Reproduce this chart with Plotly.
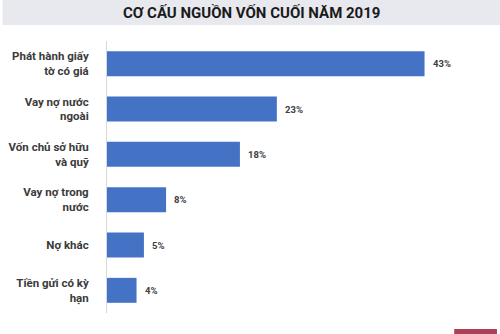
import plotly.graph_objects as go

categories = ["Phát hành giấy<br>tờ có giá", "Vay nợ nước<br>ngoài", "Vốn chủ sở hữu<br>và quỹ",
              "Vay nợ trong<br>nước", "Nợ khác", "Tiền gửi có kỳ<br>hạn"]
values = [43, 23, 18, 8, 5, 4]
value_labels = ["43%", "23%", "18%", "8%", "5%", "4%"]
title_text = "CƠ CẤU NGUỒN VỐN CUỐI NĂM 2019"

L, R, T, B = 105, 9, 41, 21
W, H = 500, 334
pw, ph = W - L - R, H - T - B

fig = go.Figure()
fig.add_trace(go.Bar(
    y=categories, x=values, orientation="h",
    marker=dict(color="#4472C4", line=dict(width=0)),
    hoverinfo="skip",
))

for c, v, t in zip(categories, values, value_labels):
    fig.add_annotation(x=v, y=c, xref="x", yref="y", text=t, showarrow=False,
                       xanchor="left", xshift=6,
                       font=dict(family="Roboto", size=9.5, color="#404040", weight="bold"))

# title band
fig.add_shape(type="rect", xref="paper", yref="paper", x0=-L / pw, x1=1 + R / pw,
              y0=1 + (T - 25) / ph, y1=1 + T / ph,
              fillcolor="#E7E9EF", line=dict(width=0), layer="above")
fig.add_annotation(text="<b>" + title_text + "</b>", xref="paper", yref="paper",
                   x=(250 - L) / pw, y=1 + (T - 12.5) / ph, xanchor="center", yanchor="middle",
                   showarrow=False,
                   font=dict(family="Roboto", size=15, color="#1a1a1a"))

fig.update_layout(
    width=W, height=H,
    margin=dict(l=L, r=R, t=T, b=B),
    paper_bgcolor="white", plot_bgcolor="white",
    bargap=0.45,
    showlegend=False,
    xaxis=dict(range=[0, 52], showgrid=False, zeroline=False, showticklabels=False,
               showline=False, fixedrange=True),
    yaxis=dict(autorange="reversed", showgrid=False, showline=True, linecolor="#D9D9D9",
               linewidth=1, ticks="", ticklabelstandoff=15,
               tickfont=dict(family="Roboto", size=11.5, color="#3a3a3a", weight="bold")),
)

# small watermark box
fig.add_shape(type="rect", xref="paper", yref="paper", x0=(454 - L) / pw, x1=(497 - L) / pw,
              y0=-(B - 0) / ph, y1=-(B - 5) / ph, fillcolor="#B0405A", line=dict(width=0))

fig.write_html("out.html")
